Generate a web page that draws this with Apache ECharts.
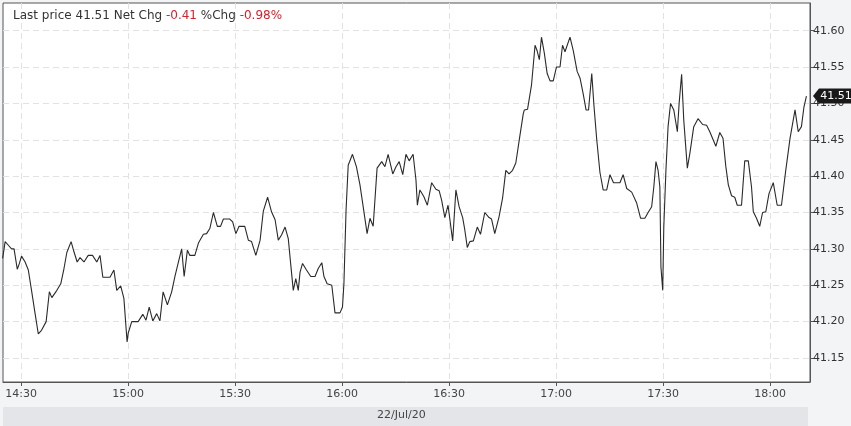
<!DOCTYPE html>
<html>
<head>
<meta charset="utf-8">
<script src="https://cdn.jsdelivr.net/npm/echarts@6/dist/echarts.min.js"></script>
<style>
    html, body { margin: 0; padding: 0; background: #f3f4f6; }
    #chart { width: 851px; height: 426px; }
</style>
</head>
<body>
<div id="chart"></div>
<script>
    // minutes after 14:30
    var minutes = [-5.2, -4.5, -3.6, -2.7, -2.0, -1.1, -0.5, 0.1, 1.1, 2.0, 2.9, 3.9, 4.8, 5.7, 7.0, 7.9, 8.6, 10.0, 11.1, 12.0,
        12.8, 14.0, 14.8, 15.7, 16.5, 17.6, 18.8, 20.0, 21.2, 22.1, 22.9, 24.9, 26.0, 26.8, 27.9, 28.8, 29.7, 30.0, 31.0, 32.8,
        34.1, 35.0, 35.9, 36.9, 38.0, 38.9, 39.8, 41.0, 42.2, 43.1, 44.0, 45.0, 45.7, 46.6, 47.3, 48.7, 49.7, 51.1, 52.0, 52.9,
        53.9, 55.0, 55.9, 56.7, 58.5, 59.3, 60.2, 61.1, 62.7, 63.7, 64.6, 65.8, 67.0, 67.9, 69.1, 70.2, 71.2, 72.1, 73.0, 74.0,
        74.9, 75.6, 76.3, 77.0, 77.7, 78.2, 78.9, 80.0, 81.2, 82.4, 83.3, 84.3, 84.9, 85.8, 87.1, 88.0, 89.4, 90.1, 90.5, 91.1,
        91.7, 92.9, 94.0, 95.0, 95.9, 97.0, 97.8, 98.7, 99.8, 101.1, 102.0, 102.9, 104.2, 105.1, 106.0, 107.0, 107.9, 108.8, 109.9, 110.7,
        111.1, 111.8, 112.9, 113.9, 115.1, 116.3, 117.2, 117.9, 118.8, 119.7, 121.0, 121.9, 122.8, 123.8, 124.4, 125.1, 125.8, 126.8, 127.9, 128.8,
        130.0, 131.2, 131.9, 132.8, 134.0, 135.0, 135.9, 136.8, 137.8, 138.7, 139.8, 140.8, 141.1, 142.0, 143.1, 144.1, 144.7, 145.3, 145.9, 146.7,
        147.5, 148.3, 149.2, 150.1, 151.1, 151.8, 152.5, 153.9, 154.8, 155.9, 156.7, 157.6, 158.4, 159.1, 160.0, 160.6, 161.4, 162.3, 163.2, 164.2,
        165.1, 166.1, 167.9, 168.8, 169.8, 171.2, 172.6, 173.7, 174.9, 175.8, 176.8, 177.4, 178.0, 178.6, 179.1, 179.4, 179.9, 180.2, 180.8, 181.4,
        182.1, 183.0, 184.0, 184.5, 185.2, 185.8, 186.8, 187.5, 188.6, 189.8, 191.1, 192.2, 193.1, 194.8, 195.9, 196.8, 197.6, 198.3, 199.2, 200.1,
        200.8, 202.0, 202.9, 203.9, 204.8, 205.3, 206.2, 207.1, 207.9, 208.8, 209.7, 210.9, 212.0, 213.2, 214.4, 215.6, 217.0, 217.9, 218.8, 219.5,
        220.2];
    var prices = [41.287, 41.310, 41.305, 41.300, 41.300, 41.272, 41.280, 41.290, 41.282, 41.271, 41.243, 41.211, 41.183, 41.188, 41.200, 41.241, 41.233, 41.243, 41.252, 41.273,
        41.295, 41.310, 41.296, 41.282, 41.288, 41.282, 41.291, 41.291, 41.282, 41.291, 41.261, 41.261, 41.271, 41.243, 41.249, 41.232, 41.172, 41.184, 41.200, 41.200,
        41.210, 41.202, 41.220, 41.201, 41.211, 41.201, 41.241, 41.223, 41.241, 41.262, 41.280, 41.300, 41.262, 41.298, 41.291, 41.291, 41.308, 41.320, 41.321, 41.328,
        41.350, 41.331, 41.331, 41.341, 41.341, 41.337, 41.321, 41.331, 41.331, 41.312, 41.310, 41.291, 41.312, 41.352, 41.371, 41.351, 41.340, 41.312, 41.319, 41.330,
        41.314, 41.278, 41.243, 41.259, 41.243, 41.268, 41.280, 41.271, 41.262, 41.262, 41.273, 41.281, 41.262, 41.252, 41.250, 41.212, 41.212, 41.220, 41.252, 41.353,
        41.415, 41.430, 41.413, 41.388, 41.358, 41.321, 41.342, 41.331, 41.411, 41.420, 41.413, 41.430, 41.403, 41.413, 41.420, 41.402, 41.430, 41.421, 41.430, 41.395,
        41.360, 41.381, 41.372, 41.360, 41.391, 41.382, 41.380, 41.367, 41.343, 41.360, 41.311, 41.381, 41.358, 41.343, 41.326, 41.302, 41.310, 41.311, 41.330, 41.320,
        41.350, 41.343, 41.341, 41.321, 41.344, 41.370, 41.408, 41.403, 41.408, 41.418, 41.454, 41.486, 41.491, 41.492, 41.525, 41.580, 41.572, 41.560, 41.591, 41.569,
        41.541, 41.531, 41.531, 41.550, 41.550, 41.580, 41.571, 41.591, 41.573, 41.544, 41.535, 41.513, 41.491, 41.491, 41.541, 41.498, 41.450, 41.405, 41.381, 41.381,
        41.402, 41.391, 41.391, 41.402, 41.383, 41.378, 41.363, 41.342, 41.342, 41.350, 41.358, 41.385, 41.420, 41.408, 41.385, 41.275, 41.243, 41.330, 41.408, 41.468,
        41.500, 41.491, 41.461, 41.500, 41.540, 41.477, 41.411, 41.431, 41.468, 41.479, 41.471, 41.470, 41.461, 41.441, 41.460, 41.452, 41.413, 41.388, 41.373, 41.371,
        41.360, 41.360, 41.421, 41.421, 41.385, 41.351, 41.342, 41.331, 41.350, 41.351, 41.376, 41.391, 41.360, 41.360, 41.408, 41.452, 41.491, 41.461, 41.468, 41.495,
        41.510];

    var timeTicks = [0, 30, 60, 90, 120, 150, 180, 210];
    var priceTicks = [41.15, 41.20, 41.25, 41.30, 41.35, 41.40, 41.45, 41.50, 41.55, 41.60];
    var sessionDate = '22/Jul/20';
    var lastPrice = 41.51;
    var netChg = -0.41;
    var pctChg = -0.98;

    var startMin = 14 * 60 + 30;
    var xMin = -5.1, xMax = 221.2;

    function fmtTime(v) {
        var t = Math.round(startMin + v);
        var h = Math.floor(t / 60), m = t % 60;
        return h + ':' + (m < 10 ? '0' + m : m);
    }

    var lineData = minutes.map(function (m, i) { return [m, prices[i]]; });

    var font = 'DejaVu Sans';
    var myChart = echarts.init(document.getElementById('chart'));
    var options = {
        animation: false,
        backgroundColor: '#f3f4f6',
        title: {
            left: 8, top: 5,
            text: '{a|Last price ' + lastPrice.toFixed(2) + ' Net Chg }{r|' + netChg.toFixed(2) + '}{a| %Chg }{r|' + pctChg.toFixed(2) + '%}',
            textStyle: {
                fontWeight: 'normal',
                rich: {
                    a: {fontFamily: font, fontSize: 12, fontWeight: 'normal', color: '#333'},
                    r: {fontFamily: font, fontSize: 12, fontWeight: 'normal', color: '#d0232b'}
                }
            }
        },
        grid: {
            left: 3, right: 41, top: 3, bottom: 44,
            show: true, backgroundColor: '#fff', borderColor: '#555', borderWidth: 1
        },
        graphic: [
            {type: 'rect', left: 3, top: 407, shape: {width: 805, height: 19}, style: {fill: '#e4e5e8'}, silent: true},
            {type: 'text', left: 377, top: 410, style: {text: sessionDate, font: '11px "DejaVu Sans"', fill: '#444'}}
        ],
        xAxis: {
            type: 'value', min: xMin, max: xMax,
            axisLine: {show: true, onZero: false, lineStyle: {color: '#555'}},
            axisTick: {show: true, length: 4, customValues: timeTicks, lineStyle: {color: '#555'}},
            axisLabel: {customValues: timeTicks, formatter: fmtTime, fontFamily: font, fontSize: 11, color: '#444', margin: 7},
            splitLine: {show: true, lineStyle: {color: '#e2e2e2', type: [6, 4]}}
        },
        yAxis: {
            type: 'value', position: 'right', min: 41.117, max: 41.638,
            axisLine: {show: true, onZero: false, lineStyle: {color: '#555'}},
            axisTick: {show: true, length: 4, inside: false, customValues: priceTicks, lineStyle: {color: '#555'}},
            axisLabel: {customValues: priceTicks, formatter: function (v) { return v.toFixed(2); }, fontFamily: font, fontSize: 11, color: '#333', margin: 3},
            splitLine: {show: true, lineStyle: {color: '#e2e2e2', type: [6, 4]}}
        },
        series: [{
            type: 'line',
            data: lineData,
            showSymbol: false,
            lineStyle: {color: '#2a2a2a', width: 1.1},
            markPoint: {
                symbol: 'path://M0,7 L6,0 L40,0 L40,14 L6,14 Z',
                symbolSize: [40, 15],
                symbolOffset: [23, 0],
                itemStyle: {color: '#1a1a1a'},
                label: {show: true, color: '#fff', fontFamily: font, fontSize: 11, offset: [3, 0], formatter: function (p) { return p.value.toFixed(2); }},
                data: [{coord: [xMax, lastPrice], value: lastPrice}]
            }
        }]
    };
    myChart.setOption(options);
</script>
</body>
</html>
